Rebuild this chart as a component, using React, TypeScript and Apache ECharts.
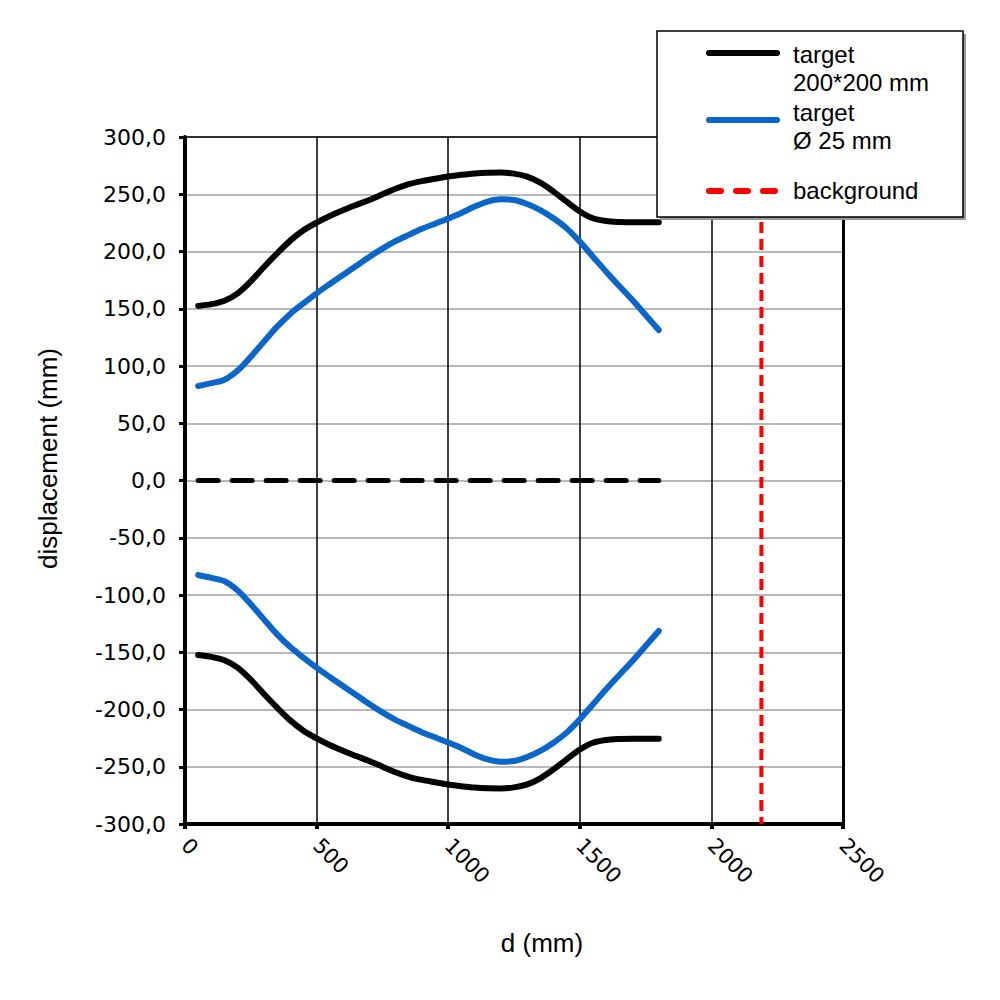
import React, { useEffect, useRef } from "react";
import * as echarts from "echarts";

// distance along the profile (mm)
const dist = [
  50, 100, 150, 200, 250, 300, 350, 400, 450, 500, 550, 600, 650, 700, 750, 800, 850, 900,
  950, 1000, 1050, 1100, 1150, 1200, 1250, 1300, 1350, 1400, 1450, 1500, 1550, 1600, 1650, 1700, 1750, 1800,
];
// target 200*200 mm
const squareUpper = [
  152.4, 154, 157, 163.5, 174, 186.5, 198.4, 209.5, 218.5, 225.2, 231, 236, 240.6, 245, 249.9, 254.8, 258.8, 261.5,
  263.5, 265.5, 267, 268.2, 268.8, 268.9, 268, 265.4, 260.1, 252.3, 243.5, 235, 229, 226.6, 225.8, 225.5, 225.5, 225.5,
];
const squareLower = [
  -152.4, -154, -157, -163.5, -174, -186.5, -198.4, -209.5, -218.5, -225.2, -231, -236, -240.6, -245, -249.9, -254.8, -258.8, -261.5,
  -263.5, -265.5, -267, -268.2, -268.8, -268.9, -268, -265.4, -260.1, -252.3, -243.5, -235, -229, -226.6, -225.8, -225.5, -225.5, -225.5,
];
// target Ø 25 mm
const roundUpper = [
  82.5, 85, 88, 96, 108, 121.3, 134.4, 145.5, 154.7, 163.5, 171.6, 179.5, 187.3, 195.2, 202.5, 209, 214.5, 219.8,
  224.3, 228.8, 233.6, 239.2, 243.6, 245.6, 245, 241.5, 236.2, 229, 220.2, 208.6, 195.5, 182.4, 169.9, 157.6, 144.5, 131.4,
];
const roundLower = [
  -82.5, -85, -88, -96, -108, -121.3, -134.4, -145.5, -154.7, -163.5, -171.6, -179.5, -187.3, -195.2, -202.5, -209, -214.5, -219.8,
  -224.3, -228.8, -233.6, -239.2, -243.6, -245.6, -245, -241.5, -236.2, -229, -220.2, -208.6, -195.5, -182.4, -169.9, -157.6, -144.5, -131.4,
];
const zeroDist = [50, 1800];
const zeroLine = [0, 0];
// background
const backgroundD = [2190, 2190];
const backgroundY = [300, -300];
const backgroundFaintD = [2000, 2000];

const legendNames = ["target\n200*200 mm", "target\nØ 25 mm", "background"];
const xAxisTitle = "d (mm)";
const yAxisTitle = "displacement (mm)";

const BLACK = "#000000";
const BLUE = "#0a66c8";
const RED = "#ff0000";

const pairs = (xs: number[], ys: number[]) => xs.map((x, i) => [x, ys[i]]);

export default function App() {
  const ref = useRef<HTMLDivElement>(null);

  useEffect(() => {
    document.body.style.margin = "0";
    if (!ref.current) return;
    const chart = echarts.init(ref.current, undefined, { renderer: "svg" });

    const curve = (name: string, data: number[][], color: string) => ({
      name,
      type: "line",
      data,
      smooth: 0.3,
      showSymbol: false,
      symbol: "none",
      lineStyle: { color, width: 6, cap: "round", join: "round" },
      z: 3,
    });

    const legendFont = { fontFamily: "Liberation Sans", fontSize: 24, fill: "#000", lineHeight: 28, verticalAlign: "top" as const };

    chart.setOption({
      animation: false,
      backgroundColor: "#ffffff",
      grid: { left: 185, right: 157, top: 137, bottom: 176, containLabel: false },
      xAxis: [
        {
          type: "value",
          min: 0,
          max: 2500,
          interval: 500,
          name: xAxisTitle,
          nameLocation: "middle",
          nameGap: 106,
          nameTextStyle: { fontFamily: "Liberation Sans", fontSize: 26, color: "#000", padding: [0, 0, 0, 56] },
          axisLine: { show: true, onZero: false, lineStyle: { color: "#000", width: 4 } },
          axisTick: { show: true, length: 5, lineStyle: { color: "#000", width: 4 } },
          axisLabel: {
            rotate: -45,
            margin: 18,
            fontFamily: "DejaVu Sans",
            fontSize: 21,
            color: "#000",
            formatter: (v: number) => String(v),
          },
          splitLine: { show: true, lineStyle: { color: "#000", width: 1.5 } },
        },
        {
          type: "value",
          position: "top",
          min: 0,
          max: 2500,
          interval: 500,
          axisLine: { show: true, onZero: false, lineStyle: { color: "#000", width: 1.5 } },
          axisTick: { show: false },
          axisLabel: { show: false },
          splitLine: { show: false },
        },
      ],
      yAxis: [
        {
          type: "value",
          min: -300,
          max: 300,
          interval: 50,
          name: yAxisTitle,
          nameLocation: "middle",
          nameGap: 124,
          nameTextStyle: { fontFamily: "Liberation Sans", fontSize: 26, color: "#000", padding: [0, 0, 0, 44] },
          axisLine: { show: true, onZero: false, lineStyle: { color: "#000", width: 4 } },
          axisTick: { show: true, length: 6, lineStyle: { color: "#000", width: 3 } },
          axisLabel: {
            margin: 19,
            fontFamily: "DejaVu Sans",
            fontSize: 22,
            color: "#000",
            formatter: (v: number) => v.toFixed(1).replace(".", ","),
          },
          splitLine: { show: true, lineStyle: { color: "#b8b8b8", width: 2 } },
        },
        {
          type: "value",
          position: "right",
          min: -300,
          max: 300,
          interval: 50,
          axisLine: { show: true, onZero: false, lineStyle: { color: "#000", width: 3 } },
          axisTick: { show: false },
          axisLabel: { show: false },
          splitLine: { show: false },
        },
      ],
      series: [
        curve(legendNames[0], pairs(dist, squareUpper), BLACK),
        curve(legendNames[0] + " lower", pairs(dist, squareLower), BLACK),
        curve(legendNames[1], pairs(dist, roundUpper), BLUE),
        curve(legendNames[1] + " lower", pairs(dist, roundLower), BLUE),
        {
          name: "zero",
          type: "line",
          data: pairs(zeroDist, zeroLine),
          showSymbol: false,
          symbol: "none",
          lineStyle: { color: BLACK, width: 5, type: [20, 14], cap: "round" },
          z: 3,
        },
        {
          name: legendNames[2] + " 2000",
          type: "line",
          data: pairs(backgroundFaintD, backgroundY),
          showSymbol: false,
          symbol: "none",
          lineStyle: { color: "rgba(255,0,0,0.35)", width: 1, type: [1, 12] },
          z: 4,
        },
        {
          name: legendNames[2],
          type: "line",
          data: pairs(backgroundD, backgroundY),
          showSymbol: false,
          symbol: "none",
          lineStyle: { color: RED, width: 4, type: [11, 6], cap: "butt" },
          z: 4,
        },
      ],
      graphic: [
        { type: "rect", z: 100, shape: { x: 660, y: 34, width: 306, height: 186 }, style: { fill: "#9a9a9a" } },
        { type: "rect", z: 101, shape: { x: 657, y: 31, width: 306, height: 186 }, style: { fill: "#ffffff", stroke: "#000", lineWidth: 1.5 } },
        { type: "line", z: 102, shape: { x1: 709, y1: 53, x2: 777, y2: 53 }, style: { stroke: BLACK, lineWidth: 6, lineCap: "round" } },
        { type: "line", z: 102, shape: { x1: 709, y1: 120, x2: 777, y2: 120 }, style: { stroke: BLUE, lineWidth: 6, lineCap: "round" } },
        { type: "line", z: 102, shape: { x1: 709, y1: 191, x2: 777, y2: 191 }, style: { stroke: RED, lineWidth: 6, lineCap: "round", lineDash: [12, 15] } },
        { type: "text", z: 102, x: 793, y: 40, style: { text: legendNames[0], ...legendFont } },
        { type: "text", z: 102, x: 793, y: 98, style: { text: legendNames[1], ...legendFont } },
        { type: "text", z: 102, x: 793, y: 176, style: { text: legendNames[2], ...legendFont } },
      ],
    });

    return () => chart.dispose();
  }, []);

  return <div ref={ref} style={{ width: 1000, height: 1000 }} />;
}
